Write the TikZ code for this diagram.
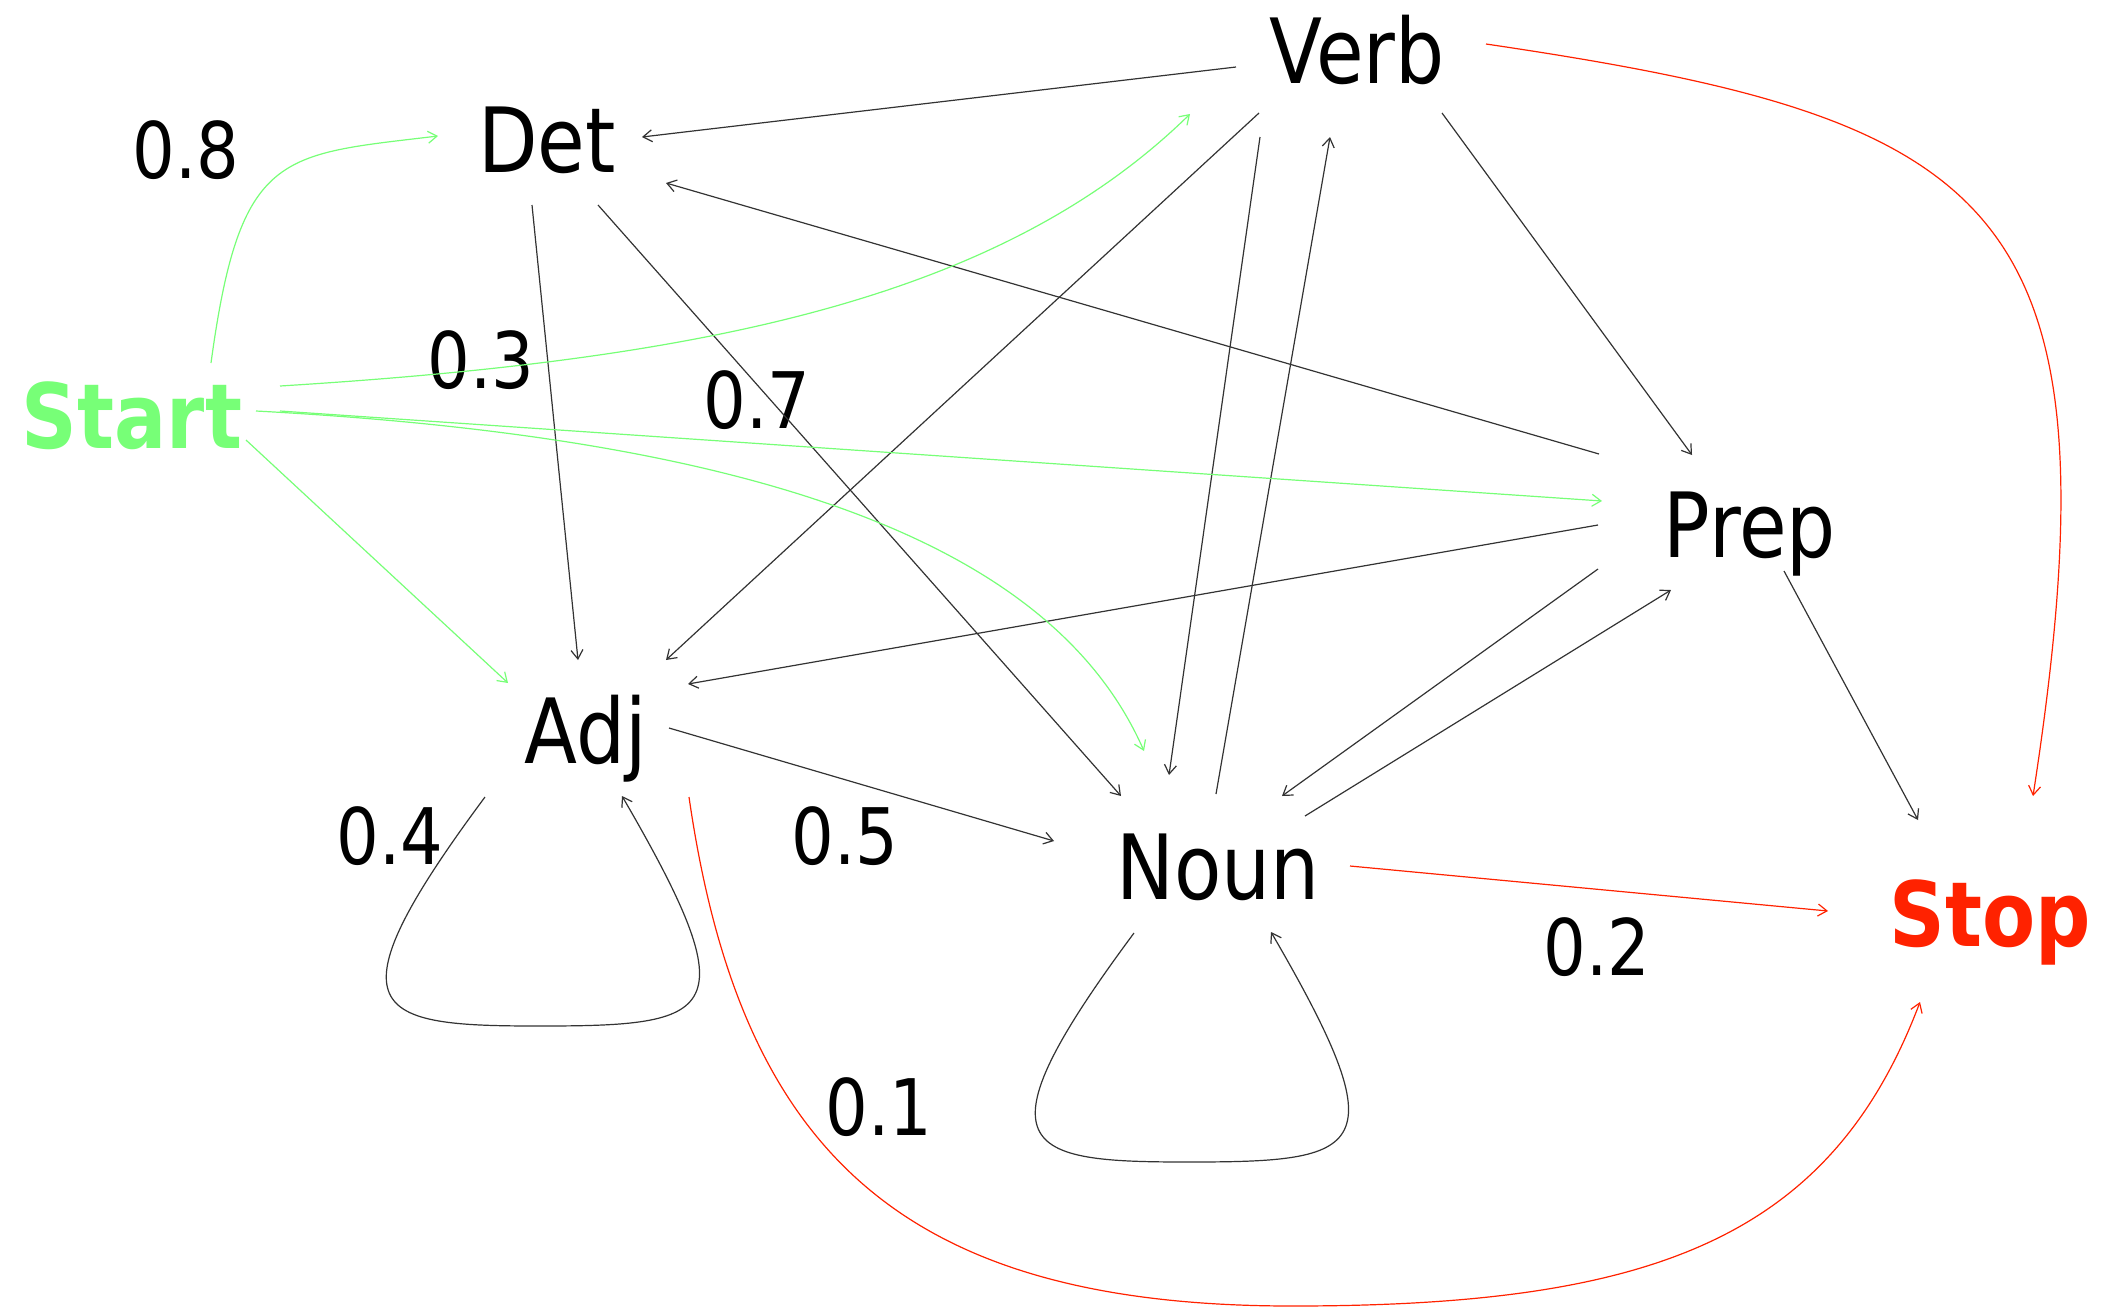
\documentclass[tikz,border=0pt]{standalone}
\usepackage{fontspec}
\setmainfont{DejaVu Sans}[FakeStretch=0.86]
\usetikzlibrary{arrows.meta}
\definecolor{startgreen}{RGB}{119,255,119}
\definecolor{stopred}{RGB}{255,34,0}

\begin{document}
\begin{tikzpicture}[x=1pt, y=-1pt, >={Straight Barb[length=9pt,width=12pt]},
  tag/.style={anchor=base, inner sep=0pt, font=\fontsize{90}{100}\selectfont},
  prob/.style={anchor=base, inner sep=0pt, font=\fontsize{78}{90}\selectfont},
  edge/.style={->, line width=1.2pt, black!80},
  gedge/.style={->, line width=1.2pt, startgreen},
  redge/.style={->, line width=1.2pt, stopred}]
  \useasboundingbox (0,0) rectangle (2111,1307);
  % states
  \foreach \name/\x/\y in {Verb/1357/83, Det/547/172, Prep/1750/557, Adj/586/763, Noun/1218/899}
    \node[tag] (\name) at (\x,\y) {\name};
  \node[tag, text=startgreen, font=\fontsize{90}{100}\selectfont\bfseries] (Start) at (132,448) {Start};
  \node[tag, text=stopred, font=\fontsize{90}{100}\selectfont\bfseries] (Stop) at (1990,946) {Stop};
  % probabilities
  \foreach \name/\p/\x/\y in {p08/0.8/186/178, p03/0.3/481/388, p07/0.7/757/428, p04/0.4/390/864,
      p05/0.5/845/864, p02/0.2/1597/975, p01/0.1/879/1135}
    \node[prob] (\name) at (\x,\y) {\p};
  % transitions between tags
  \draw[edge] ([shift={(-121,-16)}]Verb.base) -- ([shift={(95,-35)}]Det.base);
  \draw[edge] ([shift={(-151,-103)}]Prep.base) -- ([shift={(119,11)}]Det.base);
  \draw[edge] ([shift={(-15,33)}]Det.base) -- ([shift={(-8,-103)}]Adj.base);
  \draw[edge] ([shift={(51,33)}]Det.base) -- ([shift={(-97,-103)}]Noun.base);
  \draw[edge] ([shift={(-98,30)}]Verb.base) -- ([shift={(80,-103)}]Adj.base);
  \draw[edge] ([shift={(-97,54)}]Verb.base) -- ([shift={(-49,-124)}]Noun.base);
  \draw[edge] ([shift={(-2,-105)}]Noun.base) -- ([shift={(-27,54)}]Verb.base);
  \draw[edge] ([shift={(85,30)}]Verb.base) -- ([shift={(-58,-102)}]Prep.base);
  \draw[edge] ([shift={(-152,-32)}]Prep.base) -- ([shift={(102,-79)}]Adj.base);
  \draw[edge] ([shift={(-152,12)}]Prep.base) -- ([shift={(64,-103)}]Noun.base);
  \draw[edge] ([shift={(87,-83)}]Noun.base) -- ([shift={(-79,33)}]Prep.base);
  \draw[edge] ([shift={(34,14)}]Prep.base) -- ([shift={(-72,-126)}]Stop.base);
  \draw[edge] ([shift={(83,-35)}]Adj.base) -- ([shift={(-164,-58)}]Noun.base);
  % self loops
  \foreach \n/\dx in {Adj/0, Noun/17}
    \draw[edge] ([shift={(-101+\dx,34)}]\n.base) .. controls +(-162,218) and +(-165,0)
      .. ([shift={(-47+\dx,263)}]\n.base) .. controls +(178,0) and +(128,220)
      .. ([shift={(36+\dx,33)}]\n.base);
  % from Start
  \draw[gedge] ([shift={(79,-85)}]Start.base) .. controls +(29,-213) and +(-158,19) .. ([shift={(-109,-36)}]Det.base);
  \draw[gedge] ([shift={(148,-62)}]Start.base) .. controls +(420,-26) and +(-190,186) .. ([shift={(-167,31)}]Verb.base);
  \draw[gedge] ([shift={(148,-37)}]Start.base) -- ([shift={(-148,-56)}]Prep.base);
  \draw[gedge] ([shift={(124,-37)}]Start.base) .. controls +(544,29) and +(-84,-191) .. ([shift={(-74,-148)}]Noun.base);
  \draw[gedge] ([shift={(114,-8)}]Start.base) -- ([shift={(-78,-80)}]Adj.base);
  % to Stop
  \draw[redge] ([shift={(129,-39)}]Verb.base) .. controls +(514,76) and +(92,-596) .. ([shift={(43,-150)}]Stop.base);
  \draw[redge] ([shift={(132,-33)}]Noun.base) -- ([shift={(-162,-35)}]Stop.base);
  \draw[redge] ([shift={(103,34)}]Adj.base) .. controls +(51,353) and +(-392,0) .. (1292,1306)
    .. controls +(358,0) and +(-90,238) .. ([shift={(-70,56)}]Stop.base);
\end{tikzpicture}
\end{document}
